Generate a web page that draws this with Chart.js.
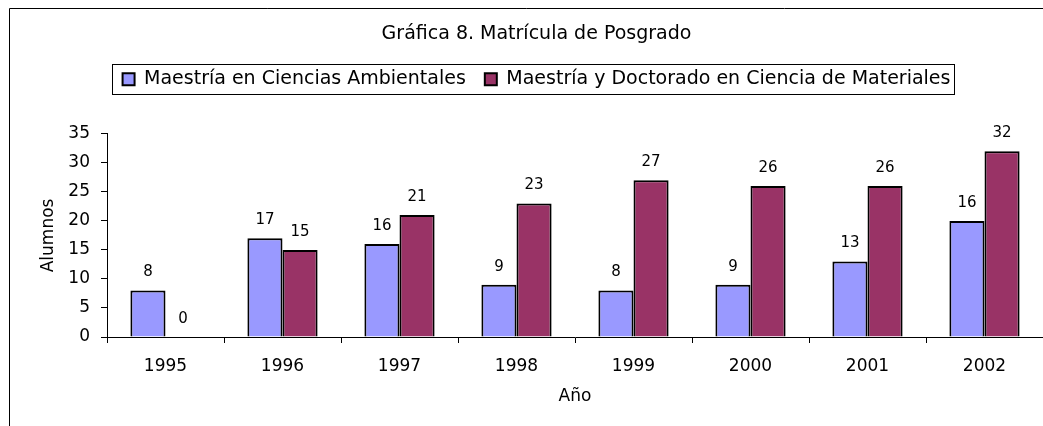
<!DOCTYPE html>
<html>
<head>
<meta charset="utf-8">
<script src="https://cdn.jsdelivr.net/npm/chart.js@4"></script>
<style>
  html, body { margin: 0; padding: 0; background: #fff; }
</style>
</head>
<body>
<canvas id="grafica8" width="1043" height="426"></canvas>
<script>
// Datos de la gráfica
const years = ['1995', '1996', '1997', '1998', '1999', '2000', '2001', '2002'];
const ambientales = [8, 17, 16, 9, 8, 9, 13, 20];
const materiales = [0, 15, 21, 23, 27, 26, 26, 32];
// etiquetas tal como aparecen sobre las barras
const ambientalesLabels = ['8', '17', '16', '9', '8', '9', '13', '16'];
const materialesLabels = ['0', '15', '21', '23', '27', '26', '26', '32'];
const yTicks = { min: 0, max: 35, step: 5 };

const FONT = '"DejaVu Sans", Verdana, sans-serif';

// marco, cuadro de la leyenda y valores sobre las barras
const extras = {
  id: 'extras',
  beforeInit(chart) {
    // deja espacio entre la leyenda y el área del gráfico
    const legend = chart.legend;
    const fit = legend.fit;
    legend.fit = function () {
      fit.call(legend);
      legend.height += 35;
    };
  },
  afterDraw(chart) {
    const ctx = chart.ctx;
    ctx.save();

    // marco del gráfico
    ctx.strokeStyle = '#000';
    ctx.lineWidth = 1;
    ctx.beginPath();
    ctx.moveTo(9.5, 426);
    ctx.lineTo(9.5, 8.5);
    ctx.lineTo(1043, 8.5);
    ctx.stroke();

    // cuadro alrededor de la leyenda
    const boxes = chart.legend.legendHitBoxes;
    if (boxes && boxes.length) {
      const first = boxes[0];
      const last = boxes[boxes.length - 1];
      const mid = first.top + first.height / 2;
      const left = Math.round(first.left) - 10.5;
      const right = Math.round(last.left + last.width) + 4.5;
      const top = Math.round(mid) - 14.5;
      ctx.strokeRect(left, top, right - left, 30);
    }

    // valores
    const allLabels = [ambientalesLabels, materialesLabels];
    ctx.font = '15px ' + FONT;
    ctx.fillStyle = '#000';
    ctx.textAlign = 'center';
    ctx.textBaseline = 'middle';
    chart.data.datasets.forEach((ds, i) => {
      chart.getDatasetMeta(i).data.forEach((bar, j) => {
        ctx.fillText(allLabels[i][j], bar.x, bar.y - 18);
      });
    });
    ctx.restore();
  }
};

const ctx = document.getElementById('grafica8').getContext('2d');
new Chart(ctx, {
  type: 'bar',
  data: {
    labels: years,
    datasets: [
      {
        label: 'Maestría en Ciencias Ambientales',
        data: ambientales,
        backgroundColor: '#9999FF',
        borderColor: '#000',
        borderWidth: 2,
        categoryPercentage: 0.6,
        barPercentage: 1
      },
      {
        label: 'Maestría y Doctorado en Ciencia de Materiales',
        data: materiales,
        backgroundColor: '#993366',
        borderColor: '#000',
        borderWidth: 2,
        categoryPercentage: 0.6,
        barPercentage: 1
      }
    ]
  },
  options: {
    responsive: false,
    animation: false,
    layout: { padding: { left: 30, top: 0, right: 0, bottom: 0 } },
    plugins: {
      title: {
        display: true,
        text: 'Gráfica 8. Matrícula de Posgrado',
        color: '#000',
        font: { family: FONT, size: 19, weight: 'normal' },
        padding: { top: 23, bottom: 5 }
      },
      legend: {
        display: true,
        labels: {
          color: '#000',
          font: { family: FONT, size: 19 },
          boxWidth: 12,
          boxHeight: 12,
          padding: 19
        }
      },
      tooltip: { enabled: false }
    },
    scales: {
      x: {
        offset: true,
        grid: { display: true, offset: true, drawOnChartArea: false, drawTicks: true, tickLength: 6, color: '#000' },
        border: { display: true, color: '#000', width: 1 },
        ticks: { color: '#000', font: { family: FONT, size: 17 }, padding: 13 },
        title: {
          display: true,
          text: 'Año',
          color: '#000',
          font: { family: FONT, size: 17 },
          padding: { top: 0, bottom: 19 }
        },
        afterFit(scale) { scale.height = 89; }
      },
      y: {
        min: yTicks.min,
        max: yTicks.max,
        grid: { display: true, drawOnChartArea: false, drawTicks: true, tickLength: 6, color: '#000' },
        border: { display: true, color: '#000', width: 1 },
        ticks: { stepSize: yTicks.step, color: '#000', font: { family: FONT, size: 17 }, padding: 11 },
        title: {
          display: true,
          text: 'Alumnos',
          color: '#000',
          font: { family: FONT, size: 17 },
          padding: { top: 8, bottom: 0 }
        },
        afterFit(scale) { scale.width = 77; }
      }
    }
  },
  plugins: [extras]
});
</script>
</body>
</html>
